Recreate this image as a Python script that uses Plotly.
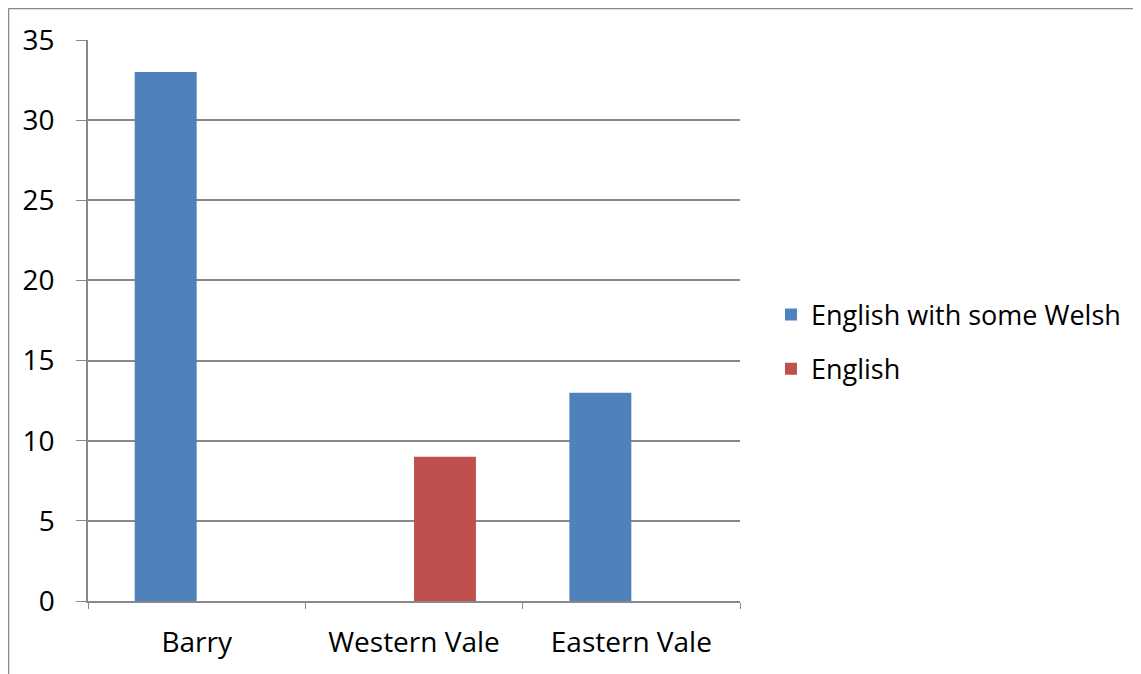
import plotly.graph_objects as go

categories = ["Barry", "Western Vale", "Eastern Vale"]
series_names = ["English with some Welsh", "English"]
welsh_values = [33, None, 13]
english_values = [None, 9, None]
y_ticks = [0, 5, 10, 15, 20, 25, 30, 35]

colors = ["#4F81BD", "#C0504D"]
FONT = "Open Sans, Liberation Sans, sans-serif"

W, H = 1133, 666
L, T, PW, PH = 80, 32, 652, 561

fig = go.Figure()
for name, vals, col, grp in zip(series_names, [welsh_values, english_values], colors, ["a", "b"]):
    fig.add_trace(go.Bar(x=categories, y=vals, name=name, marker_color=col,
                         marker_line_width=0, legendgroup=grp))

fig.update_layout(
    width=W, height=H,
    margin=dict(l=L, r=W - L - PW, t=T, b=H - T - PH, pad=0),
    paper_bgcolor="white", plot_bgcolor="white",
    barmode="group", bargap=0.43, bargroupgap=0,
    font=dict(family=FONT, size=28, color="black"),
    showlegend=True,
    legend=dict(x=1.0475, y=0.4617, xanchor="left", yanchor="middle",
                font=dict(family=FONT, size=27, color="black"),
                tracegroupgap=16, itemsizing="constant", traceorder="grouped"),
    xaxis=dict(showline=True, linecolor="#888888", linewidth=1.5,
               ticks="outside", tickson="boundaries", ticklen=6, tickcolor="#888888",
               tickfont=dict(size=28), showgrid=False, ticklabelstandoff=16),
    yaxis=dict(range=[0, 35], tickvals=y_ticks, showline=True, linecolor="#888888",
               linewidth=1.5, ticks="outside", ticklen=10, tickcolor="#888888",
               showgrid=True, gridcolor="#888888", gridwidth=1.5,
               tickfont=dict(size=28), zeroline=False, ticklabelstandoff=16),
)

# page frame decoration
x_frame = (0.5 - L) / PW
y_frame = 1 + (T - 0.5) / PH
fig.add_shape(type="line", xref="paper", yref="paper", x0=x_frame, x1=x_frame, y0=-0.2, y1=y_frame,
              line=dict(color="#888888", width=1.5))
fig.add_shape(type="line", xref="paper", yref="paper", x0=x_frame, x1=1.7, y0=y_frame, y1=y_frame,
              line=dict(color="#888888", width=1.5))

fig.write_html("out.html")
